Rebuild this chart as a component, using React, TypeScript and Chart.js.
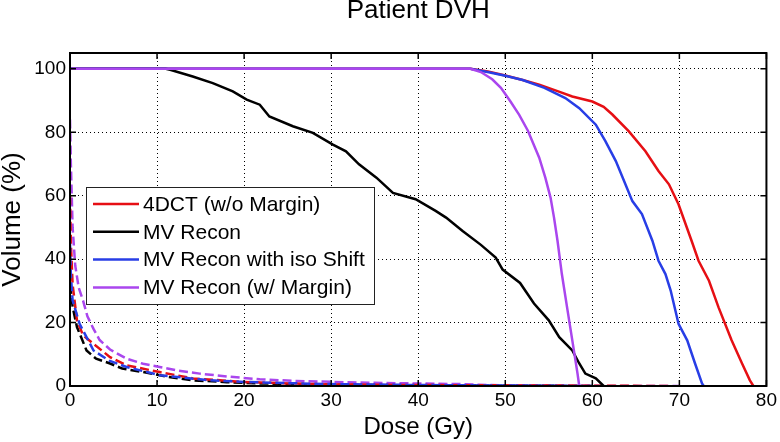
import React, { useEffect, useRef } from "react";
import { Chart, registerables } from "chart.js";

Chart.register(...registerables);

const titleText = "Patient DVH";
const xTitle = "Dose (Gy)";
const yTitle = "Volume (%)";
const xTicks = [0, 10, 20, 30, 40, 50, 60, 70, 80];
const yTicks = [0, 20, 40, 60, 80, 100];

const legendLabels = ["4DCT (w/o Margin)", "MV Recon", "MV Recon with iso Shift", "MV Recon (w/ Margin)"];

// Target DVH (solid)
const redDose = [0, 46, 48, 50, 52, 53.9, 56, 57.7, 60, 61.3, 62.3, 64.2, 66.1, 67.6, 68.8, 69.9, 71.4, 72.2, 73.4, 74.5, 76.0, 77.2, 78.1, 78.5];
const redVol = [100, 100, 99.2, 97.9, 96.5, 95.0, 93.0, 91.3, 89.7, 88.0, 85.6, 80.3, 74.0, 67.8, 63.6, 57.3, 45.8, 39.5, 33.2, 24.8, 14.4, 7.1, 1.8, 0];

const blackDose = [0, 11.0, 11.5, 14.1, 16.4, 18.7, 20.3, 21.8, 22.9, 25.6, 27.9, 30.2, 31.7, 33.2, 35.2, 37.1, 39.7, 42.0, 43.2, 45.1, 47.2, 48.9, 49.7, 51.7, 53.3, 55.0, 56.2, 57.7, 58.5, 59.2, 60.4, 61.3];
const blackVol = [100, 100, 99.7, 97.6, 95.5, 92.9, 90.3, 88.7, 85.0, 81.9, 79.8, 76.1, 74.0, 69.9, 65.7, 60.9, 58.9, 55.2, 53.1, 48.9, 44.5, 40.5, 36.7, 32.5, 26.0, 20.7, 15.4, 11.2, 7.1, 3.9, 2.4, 0];

const blueDose = [0, 46, 48.1, 50, 52.0, 54.5, 56.9, 58.5, 60.4, 61.5, 62.7, 63.8, 64.6, 65.7, 66.9, 67.6, 68.4, 69.0, 69.9, 70.9, 71.8, 72.6, 72.8];
const blueVol = [100, 100, 98.9, 97.8, 96.5, 94.0, 90.8, 87.6, 82.4, 77.2, 70.9, 63.6, 58.3, 54.2, 45.8, 39.5, 35.3, 30.1, 19.6, 14.4, 7.1, 0.8, 0];

const purpleDose = [0, 46.0, 47.2, 48.5, 49.5, 50.6, 51.6, 52.6, 53.9, 54.6, 55.2, 55.6, 56.0, 56.5, 57.1, 57.7, 58.3, 58.5];
const purpleVol = [100, 100, 99.0, 96.7, 94.0, 89.7, 85.5, 80.5, 72.0, 65.7, 59.4, 53.1, 45.8, 35.3, 24.8, 14.4, 3.9, 0];

// Normal-tissue DVH (dashed)
const redDashDose = [0, 0.1, 0.3, 0.8, 1.5, 2.7, 4.6, 6.5, 10.3, 14.1, 19.8, 25, 30, 40, 50, 60, 69];
const redDashVol = [60, 45, 32, 20.7, 16, 13.3, 9.1, 6.5, 4.4, 2.4, 1.3, 0.8, 0.5, 0.3, 0.2, 0.1, 0];

const blackDashDose = [0, 0.1, 0.3, 0.8, 1.9, 3, 4.6, 6, 8.4, 11, 14.1, 18, 22, 30, 40, 50, 60];
const blackDashVol = [36, 30, 25, 18.6, 11.2, 8.6, 7.1, 5.5, 4.4, 3, 1.8, 1.2, 0.8, 0.4, 0.2, 0.1, 0];

const blueDashDose = [0, 0.1, 0.3, 1.1, 2.7, 4.5, 6.5, 10.3, 16, 20, 25, 30, 40, 50, 60];
const blueDashVol = [45, 35, 27, 19.6, 11.2, 8, 6.0, 3.4, 1.8, 1.3, 0.9, 0.6, 0.3, 0.15, 0];

const purpleDashDose = [0, 0.1, 0.3, 0.6, 1.0, 1.5, 2.0, 2.7, 3.4, 4.6, 6.5, 8.4, 10.3, 12.5, 14.9, 18, 21.8, 26, 30, 35, 40, 45, 48, 55, 65, 70];
const purpleDashVol = [84, 70, 50, 38, 31, 26.9, 22, 18, 14.5, 11.5, 8.6, 7, 6.0, 4.8, 3.9, 3, 2.1, 1.6, 1.3, 1.0, 0.8, 0.6, 0.3, 0.1, 0, 0];

const RED = "#e60f14";
const BLACK = "#000000";
const BLUE = "#283ee6";
const PURPLE = "#aa46ee";

const FONT = '"Liberation Sans", Arial, Helvetica, sans-serif';

const pts = (xs: number[], ys: number[]) => xs.map((x, i) => ({ x, y: ys[i] }));

const decor = {
  id: "matlabDecor",
  afterDraw(chart: any) {
    const { ctx, chartArea: a, scales } = chart;
    ctx.save();
    // frame
    ctx.strokeStyle = "#000";
    ctx.lineWidth = 2;
    ctx.strokeRect(a.left, a.top, a.right - a.left, a.bottom - a.top);
    // inner ticks
    ctx.lineWidth = 1.5;
    ctx.beginPath();
    xTicks.forEach((v) => {
      const px = scales.x.getPixelForValue(v);
      ctx.moveTo(px, a.bottom);
      ctx.lineTo(px, a.bottom - 6);
      ctx.moveTo(px, a.top);
      ctx.lineTo(px, a.top + 6);
    });
    yTicks.forEach((v) => {
      const py = scales.y.getPixelForValue(v);
      ctx.moveTo(a.left, py);
      ctx.lineTo(a.left + 6, py);
      ctx.moveTo(a.right, py);
      ctx.lineTo(a.right - 6, py);
    });
    ctx.stroke();

    // legend
    const bx = 86, by = 187, bw = 288, bh = 117;
    ctx.fillStyle = "#fff";
    ctx.fillRect(bx, by, bw, bh);
    ctx.strokeStyle = "#222";
    ctx.lineWidth = 1;
    ctx.strokeRect(bx + 0.5, by + 0.5, bw, bh);
    const solid = chart.data.datasets.filter((d: any) => d.inLegend);
    ctx.font = "21px " + FONT;
    ctx.textAlign = "left";
    ctx.textBaseline = "middle";
    solid.forEach((d: any, i: number) => {
      const y = by + 17 + i * 27.8;
      ctx.strokeStyle = d.borderColor;
      ctx.lineWidth = 2.5;
      ctx.beginPath();
      ctx.moveTo(93, y);
      ctx.lineTo(139, y);
      ctx.stroke();
      ctx.fillStyle = "#000";
      ctx.fillText(d.label, 143, y + 1);
    });

    // title
    ctx.font = "26px " + FONT;
    ctx.textAlign = "center";
    ctx.textBaseline = "alphabetic";
    ctx.fillStyle = "#000";
    ctx.fillText(titleText, (a.left + a.right) / 2, 18);
    ctx.restore();
  },
};

export default function App() {
  const ref = useRef<HTMLCanvasElement | null>(null);
  useEffect(() => {
    if (!ref.current) return;
    const mk = (label: string, xs: number[], ys: number[], color: string, dashed: boolean, order: number) => ({
      label,
      data: pts(xs, ys),
      borderColor: color,
      backgroundColor: color,
      borderWidth: 2.5,
      borderDash: dashed ? [9, 4] : [],
      pointRadius: 0,
      showLine: true,
      tension: 0,
      fill: false,
      order,
      inLegend: !dashed,
    });
    const chart = new Chart(ref.current, {
      type: "scatter",
      data: {
        datasets: [
          mk(legendLabels[0], redDose, redVol, RED, false, 4),
          mk(legendLabels[1], blackDose, blackVol, BLACK, false, 3),
          mk(legendLabels[2], blueDose, blueVol, BLUE, false, 2),
          mk(legendLabels[3], purpleDose, purpleVol, PURPLE, false, 1),
          mk("red-dash", redDashDose, redDashVol, RED, true, 6),
          mk("black-dash", blackDashDose, blackDashVol, BLACK, true, 8),
          mk("blue-dash", blueDashDose, blueDashVol, BLUE, true, 5),
          mk("purple-dash", purpleDashDose, purpleDashVol, PURPLE, true, 7),
        ] as any,
      },
      options: {
        responsive: false,
        animation: false,
        events: [],
        layout: { padding: { top: 53, right: 12, left: 0, bottom: 0 } },
        plugins: { legend: { display: false }, tooltip: { enabled: false }, title: { display: false } },
        scales: {
          x: {
            type: "linear",
            min: 0,
            max: 80,
            afterBuildTicks: (s: any) => {
              s.ticks = xTicks.map((v) => ({ value: v }));
            },
            afterFit: (s: any) => {
              s.height = 56;
            },
            ticks: { color: "#000", font: { size: 19, family: FONT }, padding: 3, maxRotation: 0, autoSkip: false },
            grid: {
              color: (c: any) => (c.tick && (c.tick.value === 0 || c.tick.value === 80) ? "rgba(0,0,0,0)" : "#000"),
              lineWidth: 1,
              drawTicks: false,
            },
            border: { display: false, dash: [1, 3] },
            title: { display: true, text: xTitle, color: "#000", font: { size: 24, family: FONT, lineHeight: 1 }, padding: { top: 0, bottom: 3 } },
          },
          y: {
            type: "linear",
            min: 0,
            max: 105,
            afterBuildTicks: (s: any) => {
              s.ticks = yTicks.map((v) => ({ value: v }));
            },
            afterFit: (s: any) => {
              s.width = 70;
            },
            ticks: { color: "#000", font: { size: 19, family: FONT }, padding: 4 },
            grid: {
              color: (c: any) => (c.tick && c.tick.value === 0 ? "rgba(0,0,0,0)" : "#000"),
              lineWidth: 1,
              drawTicks: false,
            },
            border: { display: false, dash: [1, 3] },
            title: { display: true, text: yTitle, color: "#000", font: { size: 26, family: FONT, lineHeight: 1 }, padding: { top: 0, bottom: 0 } },
          },
        },
      } as any,
      plugins: [decor],
    });
    return () => chart.destroy();
  }, []);
  return (
    <div style={{ position: "absolute", left: 0, top: 0, width: 780, height: 442, background: "#fff" }}>
      <canvas ref={ref} width={780} height={442} style={{ width: 780, height: 442, display: "block" }} />
    </div>
  );
}
